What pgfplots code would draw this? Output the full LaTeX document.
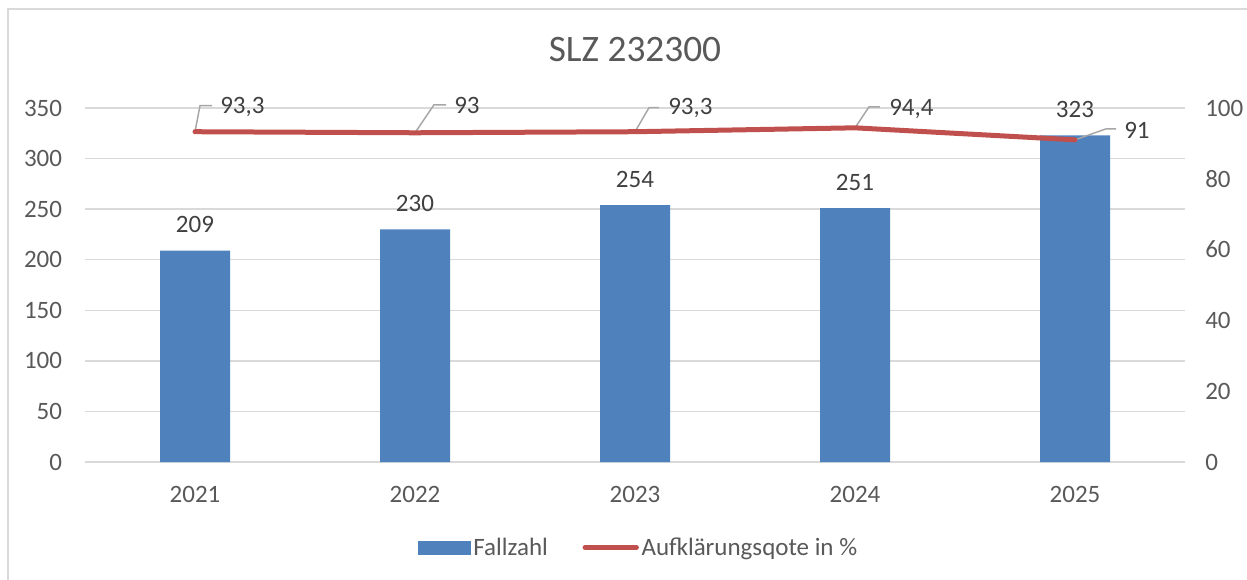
\documentclass[border=0pt]{standalone}
\usepackage{fontspec}
\setmainfont{Carlito}
\usepackage{pgfplots}
\pgfplotsset{compat=1.18}

\definecolor{barblue}{HTML}{4F81BD}
\definecolor{linered}{HTML}{C0504D}
\definecolor{txtgray}{HTML}{595959}
\definecolor{lblgray}{HTML}{404040}
\definecolor{gridgray}{HTML}{D9D9D9}
\definecolor{leadgray}{HTML}{A6A6A6}

\newcommand{\lblfont}{\fontsize{18.75}{22}\selectfont}

\begin{document}
\begin{tikzpicture}
% page = 1247 x 579 px at 0.75pt/px, axis box lower left at (85,462) px
\path[use as bounding box] (-63.75pt,-87.75pt) rectangle (871.5pt,346.5pt);
\draw[gridgray, line width=1pt] (-57.75pt,-100pt) -- (-57.75pt,339.75pt) -- (880pt,339.75pt);

\begin{axis}[
    scale only axis,
    width=825pt, height=265.5pt,
    xmin=-0.5, xmax=4.5,
    ymin=0, ymax=350,
    ytick={0,50,...,350},
    xtick={0,1,2,3,4},
    xticklabels={2021,2022,2023,2024,2025},
    axis line style={draw=none},
    major tick length=0pt,
    ymajorgrids=true,
    grid style={gridgray, line width=1.1pt},
    /pgf/number format/assume math mode=true,
    tick label style={font=\lblfont, text=txtgray},
    yticklabel style={inner sep=0pt, anchor=east, xshift=-17pt},
    xticklabel style={inner sep=0pt, anchor=north, yshift=-18pt},
    title={SLZ 232300},
    title style={at={(0.5,1)}, anchor=base, yshift=29pt, inner sep=0pt,
                 font=\fontsize{28}{33}\selectfont, text=txtgray},
    clip=false,
]
\addplot[ybar, bar width=52.5pt, fill=barblue, draw=none,
    nodes near coords,
    nodes near coords align={vertical},
    every node near coord/.append style={font=\lblfont, text=lblgray, inner sep=0pt, yshift=13pt},
] coordinates {(0,209) (1,230) (2,254) (3,251) (4,323)};
\end{axis}

\begin{axis}[
    scale only axis,
    width=825pt, height=265.5pt,
    xmin=-0.5, xmax=4.5,
    ymin=0, ymax=100,
    ytick={0,20,...,100},
    axis y line*=right,
    axis x line=none,
    axis line style={draw=none},
    major tick length=0pt,
    /pgf/number format/assume math mode=true,
    tick label style={font=\lblfont, text=txtgray},
    yticklabel style={inner sep=0pt, anchor=west, xshift=15pt},
    clip=false,
    legend style={at={(0.5,0)}, anchor=center, xshift=3pt, yshift=-64pt, draw=none,
                  font=\lblfont, text=txtgray, legend columns=2,
                  /tikz/every even column/.append style={column sep=24pt},
                  nodes={inner sep=2pt}},
    legend cell align=left,
]
\addlegendimage{legend image code/.code={\fill[barblue] (0pt,-4.9pt) rectangle (39pt,4.9pt);}}
\addlegendentry{Fallzahl}
\addlegendimage{legend image code/.code={\draw[linered, line width=3.75pt, line cap=round] (1.5pt,0pt) -- (40pt,0pt);}}
\addlegendentry{Aufklärungsqote in \%}

% leader lines of the data labels
\addplot[leadgray, line width=1.1pt, forget plot] coordinates {(0,93.3) (0.0227,100.64) (0.0773,100.64)};
\addplot[leadgray, line width=1.1pt, forget plot] coordinates {(1,93) (1.0864,100.91) (1.1409,100.91)};
\addplot[leadgray, line width=1.1pt, forget plot] coordinates {(2,93.3) (2.0636,100.08) (2.1091,100.08)};
\addplot[leadgray, line width=1.1pt, forget plot] coordinates {(3,94.4) (3.0636,100.33) (3.1136,100.33)};
\addplot[leadgray, line width=1.1pt, forget plot] coordinates {(4,91) (4.1409,94.11) (4.1864,94.11)};

\addplot[linered, line width=3.75pt, line join=round, line cap=round, forget plot]
    coordinates {(0,93.3) (1,93) (2,93.3) (3,94.4) (4,91)};

% data labels of the line
\addplot[draw=none, forget plot,
    point meta=\thisrow{y},
    nodes near coords,
    nodes near coords align={horizontal},
    /pgf/number format/.cd, use comma, fixed, precision=1, /pgfplots/.cd,
    visualization depends on={\thisrow{dx} \as \dx},
    visualization depends on={\thisrow{dy} \as \dy},
    every node near coord/.append style={font=\lblfont, text=lblgray, inner sep=0pt,
        anchor=west, xshift=\dx pt, yshift=\dy pt},
] table {
x y dx dy
0 93.3 18.75 18.75
1 93 29.25 20.25
2 93.3 24.75 18
3 94.4 25.5 14.25
4 91 36.75 6.75
};
\end{axis}
\end{tikzpicture}
\end{document}
